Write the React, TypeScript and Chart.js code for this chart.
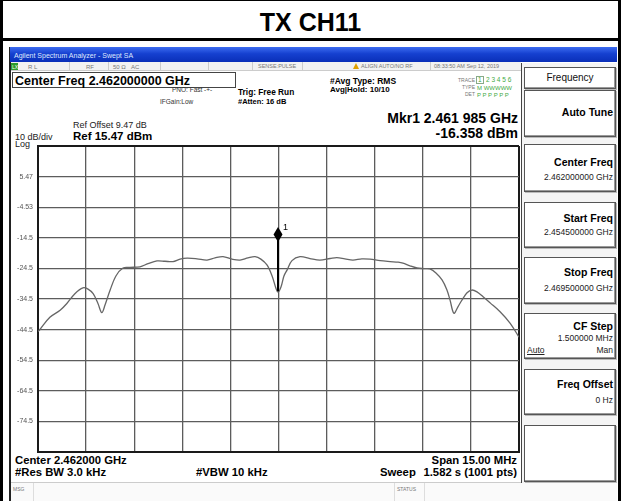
import React, { useEffect, useRef } from "react";
import { Chart, registerables } from "chart.js";

Chart.register(...registerables);

// ---- data ----
const startFreqMHz = 2454.5;
const stopFreqMHz = 2469.5;
const divMHz = 1.5;
const refLevel = 15.47;
const bottomLevel = -84.53;
const dbPerDiv = 10;
const yTickLabels = ["", "-74.5", "-64.5", "-54.5", "-44.5", "-34.5", "-24.5", "-14.5", "-4.53", "5.47", ""];

const traceFreqMHz = [
  2454.5, 2454.56, 2454.87, 2455.19, 2455.4, 2455.65, 2455.9, 2456.06, 2456.22, 2456.37,
  2456.49, 2456.59, 2456.75, 2456.93, 2457.15, 2457.37, 2457.68, 2457.93, 2458.21, 2458.46,
  2458.71, 2458.93, 2459.15, 2459.46, 2459.77, 2460.02, 2460.27, 2460.55, 2460.8, 2461.05,
  2461.27, 2461.45, 2461.64, 2461.8, 2461.92, 2461.985, 2462.08, 2462.17, 2462.27, 2462.42,
  2462.67, 2462.98, 2463.29, 2463.61, 2463.82, 2464.07, 2464.32, 2464.6, 2464.85, 2465.17,
  2465.48, 2465.73, 2465.88, 2466.1, 2466.32, 2466.54, 2466.72, 2466.91, 2467.1, 2467.25,
  2467.35, 2467.47, 2467.6, 2467.72, 2467.88, 2468.03, 2468.19, 2468.38, 2468.6, 2468.91,
  2469.22, 2469.5,
];
const traceLevelDbm = [
  -45.2, -44.5, -40.5, -38.2, -36.0, -32.8, -30.9, -31.3, -32.8, -36.0,
  -39.0, -36.5, -31.6, -27.0, -24.4, -24.2, -24.0, -23.0, -22.1, -22.2,
  -22.3, -21.5, -21.2, -21.4, -21.8, -21.1, -20.7, -21.5, -21.8, -21.1,
  -20.7, -21.5, -23.4, -27.0, -31.0, -32.3, -30.5, -27.0, -25.0, -22.0,
  -20.7, -21.3, -21.8, -21.3, -21.0, -21.4, -21.8, -21.4, -21.5, -22.0,
  -22.3, -22.5, -22.8, -23.7, -24.4, -24.6, -24.7, -26.0, -28.3, -31.5,
  -34.9, -39.2, -37.0, -34.9, -32.5, -31.6, -32.2, -33.8, -35.8, -38.7,
  -42.4, -47.0,
];

const markerFreqMHz = 2461.985;
const markerLevelDbm = -16.358;
const markerDipDbm = -32.0;

const FONT = '"Liberation Sans", Arial, Helvetica, sans-serif';

const markerPlugin = {
  id: "markerPlugin",
  afterDatasetsDraw(chart: any) {
    const { ctx, scales } = chart;
    const px = scales.x.getPixelForValue(markerFreqMHz);
    const py = scales.y.getPixelForValue(markerLevelDbm);
    const pDip = scales.y.getPixelForValue(markerDipDbm);
    const cy = py - 9;
    const hw = 4.5;
    const hh = 7.5;
    ctx.save();
    ctx.strokeStyle = "#000";
    ctx.lineWidth = 2;
    ctx.beginPath();
    ctx.moveTo(px, cy);
    ctx.lineTo(px, pDip);
    ctx.stroke();
    ctx.fillStyle = "#000";
    ctx.beginPath();
    ctx.moveTo(px, cy - hh);
    ctx.lineTo(px + hw, cy);
    ctx.lineTo(px, cy + hh);
    ctx.lineTo(px - hw, cy);
    ctx.closePath();
    ctx.fill();
    ctx.font = `9px ${FONT}`;
    ctx.fillText("1", px + 5, cy - 4);
    ctx.restore();
  },
};

type TP = {
  x: number;
  y: number;
  s: number;
  b?: boolean;
  c?: string;
  r?: boolean;
  u?: boolean;
  children: React.ReactNode;
};

function T({ x, y, s, b, c, r, u, children }: TP) {
  const st: React.CSSProperties = {
    position: "absolute",
    top: y - 0.8465 * s,
    fontFamily: FONT,
    fontSize: s,
    lineHeight: `${s}px`,
    fontWeight: b ? "bold" : "normal",
    color: c || "#000",
    whiteSpace: "nowrap",
    textDecoration: u ? "underline" : "none",
  };
  if (r) st.right = 621 - x;
  else st.left = x;
  return <div style={st}>{children}</div>;
}

function Box({ x, y, w, h, style }: { x: number; y: number; w: number; h: number; style?: React.CSSProperties }) {
  return (
    <div
      style={{
        position: "absolute",
        left: x,
        top: y,
        width: w,
        height: h,
        boxSizing: "border-box",
        ...style,
      }}
    />
  );
}

function PanelBtn({ y, h }: { y: number; h: number }) {
  return (
    <Box
      x={524}
      y={y}
      w={92}
      h={h}
      style={{ border: "1px solid #555", boxShadow: "inset -1px -1px 0 #999, 1px 1px 0 #bbb", background: "#fff" }}
    />
  );
}

export default function App() {
  const ref = useRef<HTMLCanvasElement | null>(null);

  useEffect(() => {
    if (!ref.current) return;
    const gridColor = (c: any) => (c.index === 0 || c.index === 10 ? "#1a1a1a" : "#5c5c5c");
    const gridWidth = (c: any) => (c.index === 0 || c.index === 10 ? 2 : 1.3);
    const chart = new Chart(ref.current, {
      type: "line",
      data: {
        datasets: [
          {
            data: traceFreqMHz.map((f, i) => ({ x: f, y: traceLevelDbm[i] })),
            borderColor: "#666",
            borderWidth: 1.3,
            pointRadius: 0,
            tension: 0.35,
            fill: false,
          },
        ],
      },
      options: {
        responsive: false,
        animation: false,
        devicePixelRatio: 1,
        layout: { padding: { left: 0, right: 102, top: 146, bottom: 49 } },
        plugins: { legend: { display: false }, tooltip: { enabled: false } },
        scales: {
          x: {
            type: "linear",
            min: startFreqMHz,
            max: stopFreqMHz,
            ticks: { stepSize: divMHz, display: false },
            grid: { color: gridColor, lineWidth: gridWidth, drawTicks: false },
            border: { display: true, color: "#1a1a1a", width: 2 },
            afterFit: (s: any) => {
              s.height = 0;
            },
          },
          y: {
            type: "linear",
            min: bottomLevel,
            max: refLevel,
            ticks: {
              stepSize: dbPerDiv,
              callback: (_v: any, i: number) => yTickLabels[i],
              font: { size: 7, family: FONT },
              color: "#555",
              padding: 5,
            },
            grid: { color: gridColor, lineWidth: gridWidth, drawTicks: false },
            border: { display: true, color: "#1a1a1a", width: 2 },
            afterFit: (s: any) => {
              s.width = 38;
            },
          },
        },
      } as any,
      plugins: [markerPlugin],
    });
    return () => chart.destroy();
  }, []);

  const tiny = "#777";

  return (
    <div style={{ position: "absolute", left: 0, top: 0, width: 621, height: 501, background: "#fff", overflow: "hidden" }}>
      {/* outer frame */}
      <Box x={0} y={0} w={621} h={501} style={{ borderLeft: "3px solid #000", borderRight: "3px solid #000", borderTop: "1px solid #000" }} />
      <Box x={0} y={38} w={621} h={3} style={{ background: "#000" }} />
      <div
        style={{
          position: "absolute",
          left: 0,
          width: 621,
          top: 31 - 0.8465 * 25,
          textAlign: "center",
          fontFamily: FONT,
          fontWeight: "bold",
          fontSize: 25,
          lineHeight: "25px",
        }}
      >
        TX CH11
      </div>

      {/* screenshot frame */}
      <Box x={9} y={47} w={2} h={454} style={{ background: "#222" }} />
      <Box
        x={10}
        y={47}
        w={607}
        h={15}
        style={{ background: "linear-gradient(180deg,#3d6cf0 0%,#1540d0 45%,#0a2fb8 100%)" }}
      />
      <T x={14} y={58} s={7} c="#dfe8ff">Agilent Spectrum Analyzer - Swept SA</T>
      <Box x={11} y={62} w={510} h={9} style={{ background: "#f2f2f2", borderBottom: "1px solid #ccc" }} />
      <Box x={11} y={63} w={7} h={7} style={{ background: "#2c9c2c" }} />
      <T x={12} y={69} s={5} c="#fff">LXI</T>
      <T x={28} y={69} s={6} c={tiny}>R L</T>
      <T x={86} y={69} s={6} c={tiny}>RF</T>
      <T x={113} y={69} s={6} c={tiny}>50 Ω</T>
      <T x={131} y={69} s={6} c={tiny}>AC</T>
      <Box x={69} y={62} w={1} h={9} style={{ background: "#ccc" }} />
      <Box x={108} y={62} w={1} h={9} style={{ background: "#ccc" }} />
      <Box x={160} y={62} w={1} h={9} style={{ background: "#ccc" }} />
      <Box x={208} y={62} w={1} h={9} style={{ background: "#ccc" }} />
      <Box x={252} y={62} w={1} h={9} style={{ background: "#ccc" }} />
      <Box x={302} y={62} w={1} h={9} style={{ background: "#ccc" }} />
      <Box x={430} y={62} w={1} h={9} style={{ background: "#ccc" }} />
      <T x={258} y={69} s={5.5} c={tiny}>SENSE:PULSE</T>
      <div
        style={{
          position: "absolute",
          left: 353,
          top: 63,
          width: 0,
          height: 0,
          borderLeft: "3.5px solid transparent",
          borderRight: "3.5px solid transparent",
          borderBottom: "6px solid #e0a000",
        }}
      />
      <T x={361} y={69} s={5.5} c={tiny}>ALIGN AUTO/NO RF</T>
      <T x={434} y={69} s={5.5} c={tiny}>08:33:50 AM Sep 12, 2019</T>

      {/* center freq box */}
      <Box x={12} y={72} w={224} h={16} style={{ border: "1px solid #444" }} />
      <T x={15} y={86} s={12.5} b>Center Freq 2.462000000 GHz</T>
      <T x={172} y={92.5} s={6.5} c="#333">PNO: Fast</T>
      <T x={204} y={92.5} s={6.5} c="#333">-+-</T>
      <T x={160} y={104.5} s={6.5} c="#333">IFGain:Low</T>
      <T x={238} y={95} s={8.3} b>Trig: Free Run</T>
      <T x={238} y={104} s={7.5} b>#Atten: 16 dB</T>
      <T x={330} y={84} s={8.5} b>#Avg Type: RMS</T>
      <T x={330} y={93} s={8} b>Avg|Hold: 10/10</T>

      {/* trace block */}
      <T x={475} y={82} s={5} r c={tiny}>TRACE</T>
      <Box x={476} y={76} w={8} h={8} style={{ border: "1px solid #8a8" }} />
      <T x={478} y={82.5} s={6.5} c="#4a4">1</T>
      <T x={486} y={82.5} s={6.5} c="#4a4">2 3 4 5 6</T>
      <T x={475} y={89} s={5} r c={tiny}>TYPE</T>
      <T x={477} y={90} s={6} c="#4a4">M WWWWW</T>
      <T x={475} y={96} s={5} r c={tiny}>DET</T>
      <T x={477} y={97} s={6} c="#4a4">P P P P P P</T>

      {/* marker readout */}
      <T x={518} y={123} s={14} b r>Mkr1 2.461 985 GHz</T>
      <T x={518} y={137.5} s={14} b r>-16.358 dBm</T>

      {/* ref labels */}
      <T x={73} y={129} s={9} c="#222">Ref Offset 9.47 dB</T>
      <T x={73} y={141} s={11.5} b>Ref 15.47 dBm</T>
      <T x={15} y={141} s={9} c="#222">10 dB/div</T>
      <T x={15} y={147.5} s={9} c="#222">Log</T>

      {/* bottom labels */}
      <T x={15} y={465} s={11.3} b>Center 2.462000 GHz</T>
      <T x={15} y={477} s={11.3} b>#Res BW 3.0 kHz</T>
      <T x={196} y={477} s={11.3} b>#VBW 10 kHz</T>
      <T x={517} y={465} s={11.3} b r>Span 15.00 MHz</T>
      <T x={380} y={477} s={11.3} b>Sweep</T>
      <T x={517} y={477} s={11.3} b r>1.582 s (1001 pts)</T>

      {/* message row */}
      <Box x={11} y={482} w={606} h={19} style={{ borderTop: "1px solid #ccc", background: "#fafafa" }} />
      <Box x={33} y={483} w={1} h={18} style={{ background: "#ddd" }} />
      <Box x={394} y={483} w={1} h={18} style={{ background: "#ddd" }} />
      <Box x={424} y={483} w={1} h={18} style={{ background: "#ddd" }} />
      <T x={13} y={491} s={5} c={tiny}>MSG</T>
      <T x={397} y={491} s={5} c={tiny}>STATUS</T>

      {/* right panel */}
      <Box x={521} y={63} w={96} h={420} style={{ borderLeft: "1px solid #444", background: "#f4f4f4" }} />
      <PanelBtn y={67} h={22} />
      <PanelBtn y={90} h={47} />
      <PanelBtn y={144} h={48} />
      <PanelBtn y={202} h={46} />
      <PanelBtn y={257} h={47} />
      <PanelBtn y={313} h={46} />
      <PanelBtn y={369} h={46} />
      <PanelBtn y={425} h={57} />
      <div
        style={{
          position: "absolute",
          left: 524,
          width: 92,
          top: 81 - 0.8465 * 10,
          textAlign: "center",
          fontFamily: FONT,
          fontSize: 10,
          lineHeight: "10px",
          color: "#111",
        }}
      >
        Frequency
      </div>
      <T x={613} y={116} s={10.5} b r>Auto Tune</T>
      <T x={613} y={166} s={10.5} b r>Center Freq</T>
      <T x={613} y={180} s={8.5} r c="#222">2.462000000 GHz</T>
      <T x={613} y={221.5} s={10.5} b r>Start Freq</T>
      <T x={613} y={235} s={8.5} r c="#222">2.454500000 GHz</T>
      <T x={613} y={276} s={10.5} b r>Stop Freq</T>
      <T x={613} y={291} s={8.5} r c="#222">2.469500000 GHz</T>
      <T x={613} y={330} s={10.5} b r>CF Step</T>
      <T x={613} y={341} s={8.5} r c="#222">1.500000 MHz</T>
      <T x={527} y={353} s={8.5} u c="#222">Auto</T>
      <T x={613} y={353} s={8.5} r c="#222">Man</T>
      <T x={613} y={388} s={10.5} b r>Freq Offset</T>
      <T x={613} y={403} s={8.5} r c="#222">0 Hz</T>

      {/* chart */}
      <canvas
        ref={ref}
        width={621}
        height={501}
        style={{ position: "absolute", left: 0, top: 0, width: 621, height: 501 }}
      />
    </div>
  );
}
